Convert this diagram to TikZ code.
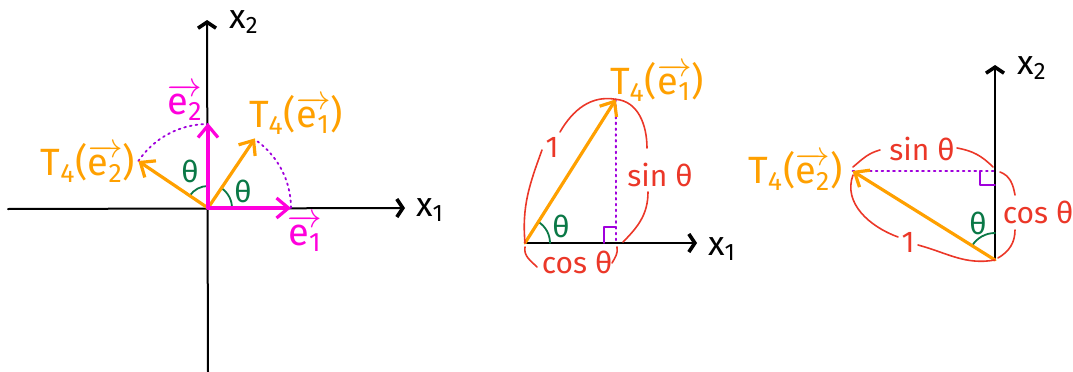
\documentclass[tikz,border=0pt]{standalone}
\usepackage{fontspec}
\setmainfont{Fira Sans}
\usetikzlibrary{arrows.meta}
\definecolor{vorange}{RGB}{255,160,0}
\definecolor{vmagenta}{RGB}{255,0,220}
\definecolor{bred}{RGB}{235,55,40}
\definecolor{agreen}{RGB}{10,120,70}
\definecolor{dpurple}{RGB}{160,0,220}
\newcommand{\ev}[1]{$\overrightarrow{\mbox{e\textsubscript{#1}}}$}
\tikzset{
  axisline/.style={line width=1pt,-{Straight Barb[length=3pt,width=9pt,line width=1.8pt]}},
  basisvec/.style={vmagenta,line width=1.6pt,-{Straight Barb[length=6pt,width=10pt]}},
  imgvec/.style={vorange,line width=1.6pt,-{Straight Barb[length=6pt,width=10pt]}},
  brace/.style={bred,line width=0.8pt},
  rot/.style={dpurple,line width=0.9pt,dotted},
  rangle/.style={dpurple,line width=0.9pt},
  ang/.style={agreen,line width=0.9pt},
  lbl/.style={inner sep=0pt,font=\fontsize{19}{22}\selectfont},
  axlbl/.style={inner sep=0pt,font=\fontsize{17}{20}\selectfont},
  redlbl/.style={inner sep=0pt,bred,font=\fontsize{15}{18}\selectfont},
  anglbl/.style={inner sep=0pt,agreen,font=\fontsize{15}{17}\selectfont}
}
\begin{document}
\begin{tikzpicture}[x=0.5pt,y=0.5pt,line cap=round,line join=round]
  \useasboundingbox (0,0) rectangle (1073,371);
  % standard basis and its image
  \begin{scope}[shift={(208,163)}]
    \coordinate (O1) at (0,0);
    \coordinate (e1) at (0:83);
    \coordinate (e2) at (90:85);
    \coordinate (Te1) at (56:84);
    \coordinate (Te2) at (146:84);
    \draw[axisline] (-200,-1) -- (197,0);
    \draw[axisline] (0,-164) -- (-1,188);
    \node[axlbl] (x1a) at (222,-2) {x\textsubscript{1}};
    \node[axlbl] (x2a) at (36,186) {x\textsubscript{2}};
    \draw[rot] (e1) arc[start angle=0,end angle=56,radius=83];
    \draw[rot] (Te2) arc[start angle=146,end angle=90,radius=84];
    \draw[ang] (24,0) arc[start angle=0,end angle=56,radius=24];
    \draw[ang] (90:22) arc[start angle=90,end angle=146,radius=22];
    \draw[imgvec] (O1) -- (Te1);
    \draw[imgvec] (O1) -- (Te2);
    \draw[basisvec] (O1) -- (e1);
    \draw[basisvec] (O1) -- (e2);
    \node[lbl,vmagenta] (le1) at (97,-25) {\ev{1}};
    \node[lbl,vmagenta] (le2) at (-23,106) {\ev{2}};
    \node[lbl,vorange] (lTe1) at (88,93) {T\textsubscript{4}(\ev{1})};
    \node[lbl,vorange] (lTe2) at (-120,45) {T\textsubscript{4}(\ev{2})};
    \node[anglbl] (th1) at (35,17) {θ};
    \node[anglbl] (th2) at (-18,37) {θ};
  \end{scope}
  % image of e1
  \begin{scope}[shift={(525,128)}]
    \coordinate (O2) at (0,0);
    \coordinate (P2) at (57.7:170);
    \coordinate (F2) at (91,0);
    \draw[axisline] (O2) -- (172,0);
    \node[axlbl] (x1b) at (197,-6) {x\textsubscript{1}};
    \draw[rot] (P2) -- (F2);
    \draw[rangle] (79,0) -- (79,16) -- (91,16);
    \draw[ang] (25,0) arc[start angle=0,end angle=57.7,radius=25];
    \draw[imgvec] (O2) -- (P2);
    \node[lbl,vorange] (lP2) at (132,161) {T\textsubscript{4}(\ev{1})};
    \node[redlbl] (one2) at (27,96) {1};
    \node[redlbl] (sin2) at (135,68) {sin θ};
    \node[redlbl] (cos2) at (52,-19) {cos θ};
    \node[anglbl] (th3) at (36,17) {θ};
    \draw[brace] (O2) to[out=95,in=-110] (17,93);
    \draw[brace] (35,111) to[out=60,in=170] (P2);
    \draw[brace] (P2) to[out=-5,in=90] (122,95);
    \draw[brace] (123,51) to[out=-90,in=45] (98,1);
    \draw[brace] (0,-4) to[out=-100,in=135] (12,-24);
    \draw[brace] (92,-4) to[out=-80,in=60] (87,-20);
  \end{scope}
  % image of e2
  \begin{scope}[shift={(995,111)}]
    \coordinate (O3) at (0,0);
    \coordinate (P3) at (148:168);
    \coordinate (F3) at (0,89);
    \draw[axisline] (O3) -- (0,195);
    \node[axlbl] (x2b) at (37,192) {x\textsubscript{2}};
    \draw[rot] (P3) -- (F3);
    \draw[rangle] (-15,89) -- (-15,75) -- (0,75);
    \draw[ang] (90:27) arc[start angle=90,end angle=148,radius=27];
    \draw[imgvec] (O3) -- (P3);
    \node[lbl,vorange,anchor=east] (lP3) at (-152,89) {T\textsubscript{4}(\ev{2})};
    \node[redlbl] (sin3) at (-73,111) {sin θ};
    \node[redlbl] (cos3) at (43,48) {cos θ};
    \node[redlbl] (one3) at (-87,18) {1};
    \node[anglbl] (th4) at (-17,37) {θ};
    \draw[brace] (-142,93) to[out=40,in=195] (-115,110);
    \draw[brace] (-38,112) to[out=-10,in=135] (-2,93);
    \draw[brace] (5,88) to[out=-20,in=100] (20,65);
    \draw[brace] (20,30) to[out=-90,in=30] (3,2);
    \draw[brace] (-142,85) to[out=-110,in=160] (-97,23);
    \draw[brace] (-77,15) to[out=-15,in=190] (O3);
  \end{scope}
\end{tikzpicture}
\end{document}
